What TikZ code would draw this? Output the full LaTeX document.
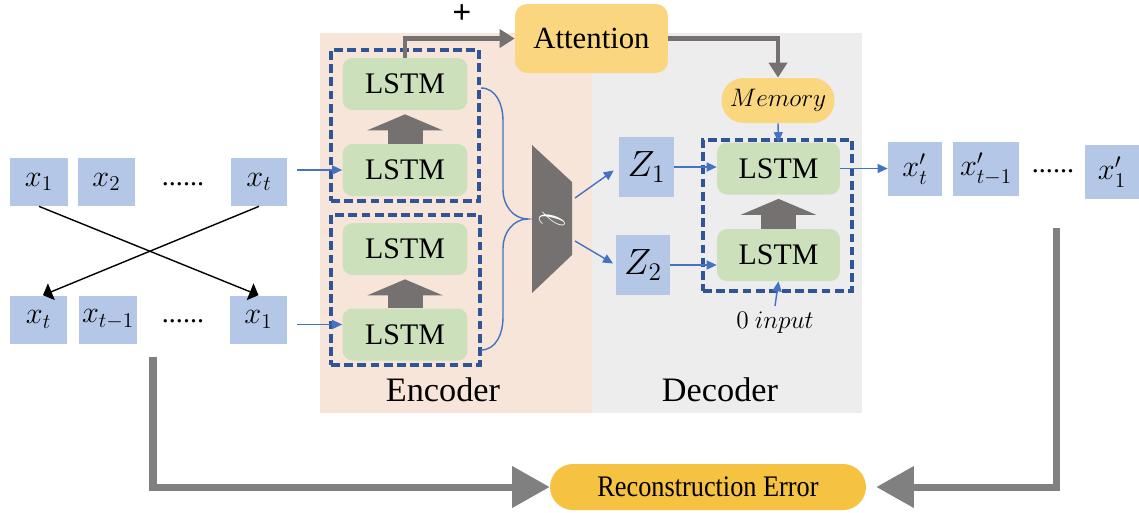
\documentclass[tikz,border=0pt]{standalone}
\usepackage{amsmath}
\usepackage{fontspec}
\setmainfont{Liberation Serif}
\usetikzlibrary{arrows,arrows.meta}

\definecolor{encbg}{HTML}{F8E5D9}
\definecolor{decbg}{HTML}{EDEDED}
\definecolor{lstmgreen}{HTML}{CDE0BC}
\definecolor{tokblue}{HTML}{B4C7E7}
\definecolor{attyellow}{HTML}{FAD77F}
\definecolor{recyellow}{HTML}{F5C242}
\definecolor{dashblue}{HTML}{2F5597}
\definecolor{flowblue}{HTML}{4472C4}
\definecolor{fatgray}{HTML}{767171}
\definecolor{fbgray}{HTML}{808080}

\begin{document}
\begin{tikzpicture}[x=0.02cm,y=-0.02cm]
\tikzstyle{tok} = [fill=tokblue, minimum height=0.96cm, inner sep=0pt, font=\fontsize{18.5}{20}\selectfont]
\tikzstyle{dots} = [inner sep=0pt, font=\fontsize{16}{18}\selectfont]
\tikzstyle{lstm} = [fill=lstmgreen, rounded corners=0.2cm, minimum width=2.5cm, minimum height=1.04cm, inner sep=0pt, font=\fontsize{17}{18}\selectfont]
\tikzstyle{dashbox} = [draw=dashblue, line width=1.8pt, dash pattern=on 5pt off 2.5pt, inner sep=0pt]
\tikzstyle{fatup} = [draw=fatgray, line width=0.7cm, -{Triangle[length=0.32cm, width=1.5cm]}, shorten >=0.08cm]
\tikzstyle{flow} = [draw=flowblue, line width=0.8pt, -{Triangle[length=0.2cm, width=0.18cm]}]
\tikzstyle{link} = [draw=fatgray, line width=2.5pt, -{Triangle[length=0.3cm, width=0.36cm]}]
\tikzstyle{cross} = [line width=0.8pt, -triangle 90]
\tikzstyle{fb} = [draw=fbgray, line width=4pt, -{Triangle[length=0.75cm, width=0.8cm]}]
\tikzstyle{bglabel} = [font=\fontsize{19.5}{22}\selectfont]
\useasboundingbox (0,0) rectangle (1139,512);

% encoder / decoder areas
\fill[encbg] (320,33) rectangle (592,413);
\fill[decbg] (592,33) rectangle (862,413);
\node[bglabel] (enc) at (443,390) {Encoder};
\node[bglabel] (dec) at (720,390) {Decoder};

% input sequences
\node[tok, minimum width=1.16cm] (a1) at (39,182) {$x_1$};
\node[tok, minimum width=1.14cm] (a2) at (106.5,182) {$x_2$};
\node[dots] (a3) at (183,184) {......};
\node[tok, minimum width=1.12cm] (a4) at (259,182) {$x_t$};
\node[tok, minimum width=1.14cm] (b1) at (38.5,319.5) {$x_t$};
\node[tok, minimum width=1.16cm] (b2) at (108,319.5) {$x_{t-1}$};
\node[dots] (b3) at (183,321) {......};
\node[tok, minimum width=1.14cm] (b4) at (258.5,319.5) {$x_1$};
\draw[cross] (a1.south) -- (b4.north);
\draw[cross] (a4.south) -- ([xshift=0.09cm]b1.north);

% encoder
\node[dashbox, minimum width=2.96cm, minimum height=3.02cm] (g1) at (405,125.5) {};
\node[dashbox, minimum width=2.98cm, minimum height=3cm] (g2) at (405.5,290) {};
\node[lstm] (e1) at (405,84) {LSTM};
\node[lstm] (e2) at (405,170) {LSTM};
\node[lstm] (e3) at (405,249) {LSTM};
\node[lstm] (e4) at (405,334.5) {LSTM};
\draw[fatup] (e2.north) -- (e1.south);
\draw[fatup] (e4.north) -- (e3.south);
\coordinate (e4in) at ([yshift=0.2cm]e4.west);
\draw[flow, shorten <=0.2cm] (e2.west -| a4.east) -- (e2.west);
\draw[flow, shorten <=0.2cm] (e4in -| b4.east) -- (e4in);

% attention and memory
\node[fill=attyellow, rounded corners=0.24cm, minimum width=3.06cm, minimum height=1.38cm, inner sep=0pt, font=\fontsize{17.5}{20}\selectfont] (att) at (591.5,38.5) {Attention};
\node[font=\fontsize{19}{20}\selectfont\bfseries] (plus) at (462,14) {+};
\node[fill=attyellow, rounded corners=0.44cm, minimum width=2.26cm, minimum height=0.9cm, inner sep=0pt, font=\fontsize{14}{16}\selectfont] (mem) at (778,100.5) {$Memory$};
\draw[link] (e1.north) |- (att.west);
\draw[link] (att.east) -| (mem.north);

% brace into the fusion block
\coordinate (br1) at (481,88);
\coordinate (br2) at (481,350);
\coordinate (brtip) at (528,219);
\draw[flowblue, line width=0.8pt] (br1) to[out=0,in=90] (503,120) -- (503,190) to[out=-90,in=180] (brtip)
  to[out=180,in=90] (503,248) -- (503,318) to[out=-90,in=0] (br2);
\fill[fatgray] (532,145) -- (572,182) -- (572,255) -- (532,293) -- cycle;
\node[white, rotate=-90, font=\fontsize{20}{22}\selectfont] (lf) at (552,219) {$\ell$};
\coordinate (f1) at (575,198);
\coordinate (f2) at (575,241);

% latent codes
\node[tok, minimum width=1.1cm, minimum height=1.2cm, font=\fontsize{20}{22}\selectfont] (z1) at (646.5,167) {$Z_1$};
\node[tok, minimum width=1.08cm, minimum height=1.2cm, font=\fontsize{20}{22}\selectfont] (z2) at (643,265) {$Z_2$};
\draw[flow, shorten >=0.12cm] (f1) -- (z1.west);
\draw[flow, shorten >=0.06cm] (f2) -- (z2.west);

% decoder
\node[dashbox, minimum width=2.98cm, minimum height=3.02cm] (g3) at (777.5,215.5) {};
\node[lstm, minimum width=2.46cm] (d1) at (778.5,168.5) {LSTM};
\node[lstm, minimum width=2.46cm] (d2) at (778.5,255) {LSTM};
\draw[fatup] (d2.north) -- (d1.south);
\draw[flow] (mem.south) -- (d1.north);
\node[font=\fontsize{14}{16}\selectfont] (inp) at (775,323) {$0\ input$};
\draw[flow] (inp.north) -- (d2.south);
\draw[flow] (z1.east) -- (z1.east -| d1.west);
\draw[flow] (z2.east) -- (z2.east -| d2.west);

% outputs
\node[tok, minimum width=1.08cm, minimum height=1.08cm] (o1) at (915,169) {$x'_t$};
\node[tok, minimum width=1.32cm, minimum height=1.08cm] (o2) at (986,169) {$x'_{t-1}$};
\node[dots] (o3) at (1053,171) {......};
\node[tok, minimum width=1.08cm, minimum height=1.08cm] (o4) at (1112,172) {$x'_1$};
\draw[flow] (d1.east) -- (d1.east -| o1.west);

% reconstruction error
\node[fill=recyellow, rounded corners=0.46cm, minimum width=6.32cm, minimum height=0.92cm, inner sep=0pt, font=\fontsize{17}{18}\selectfont] (rec) at (708,487) {\scalebox{0.88}[1]{Reconstruction Error}};
\coordinate (fbl) at (153,357);
\coordinate (fbr) at (1056,228);
\draw[fb] (fbl) |- (rec.west);
\draw[fb, shorten >=0.2cm] (fbr) |- (rec.east);
\end{tikzpicture}
\end{document}
